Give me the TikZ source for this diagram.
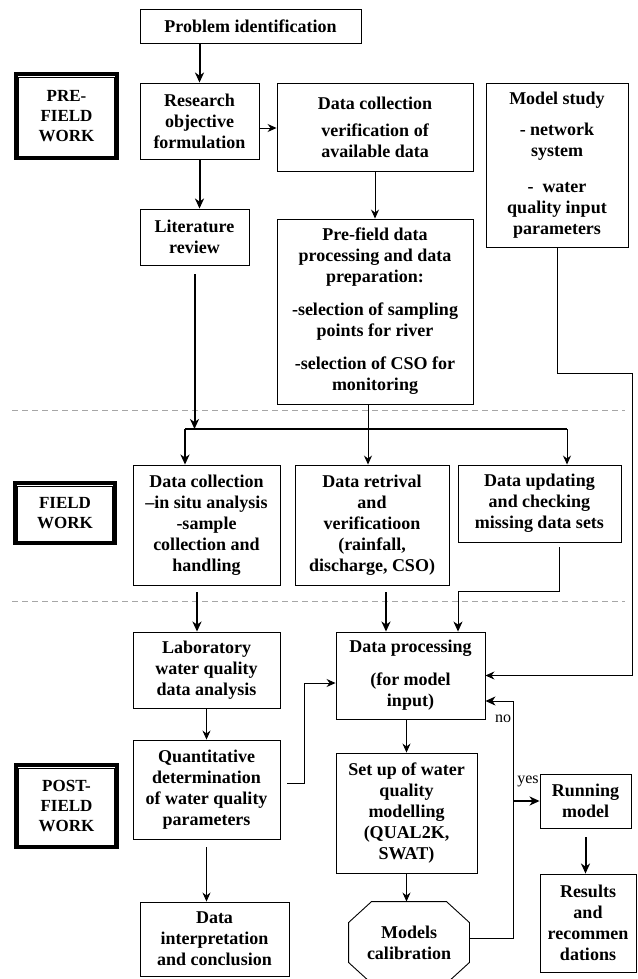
\documentclass[tikz,border=0pt]{standalone}
\usepackage{fontspec}
\setmainfont{Liberation Serif}
\usetikzlibrary{arrows.meta,calc}
\begin{document}
\begin{tikzpicture}[x=1pt,y=-1pt,
  box/.style={draw,line width=0.9pt,inner sep=0pt,align=center,
    font=\fontsize{18}{21}\selectfont\bfseries},
  phase/.style={draw,line width=4pt,inner sep=0pt,align=center,
    font=\fontsize{17}{20}\selectfont\bfseries},
  plain/.style={inner sep=0pt,font=\fontsize{16}{18}\selectfont},
  thk/.style={line width=2pt,-{Stealth[length=10pt,width=9pt,inset=3pt]}},
  thn/.style={line width=0.9pt,-{Stealth[length=9pt,width=8pt,inset=3pt]}},
  med/.style={line width=1pt,-{Stealth[length=10pt,width=9pt,inset=3pt]}},
  sep/.style={draw=black!35,line width=0.8pt,dash pattern=on 6pt off 4pt}]
\useasboundingbox (0,0) rectangle (637,979);
\clip (0,0) rectangle (637,979);

% separators
\draw[sep] (12,410) -- (625,410);
\draw[sep] (12,601) -- (625,601);

% phase labels
\node[phase,minimum width=101pt,minimum height=84pt] (pre) at (66.5,116) {PRE-\\FIELD\\WORK};
\draw[line width=0.8pt] ([shift={(4.5pt,-5pt)}]pre.north west) rectangle ([shift={(-5pt,4pt)}]pre.south east);
\node[phase,minimum width=100pt,minimum height=60pt] (field) at (65,513) {FIELD\\WORK};
\draw[line width=0.8pt] ([shift={(4.5pt,-5pt)}]field.north west) rectangle ([shift={(-5pt,4pt)}]field.south east);
\node[phase,minimum width=101pt,minimum height=82pt] (post) at (66.5,806) {POST-\\FIELD\\WORK};
\draw[line width=0.8pt] ([shift={(4.5pt,-5pt)}]post.north west) rectangle ([shift={(-5pt,4pt)}]post.south east);

% boxes
\node[box,minimum width=221pt,minimum height=34pt] (prob) at (250.5,26) {Problem identification};
\node[box,minimum width=119pt,minimum height=76pt] (research) at (199.5,121) {Research\\objective\\formulation};
\node[box,minimum width=196pt,minimum height=88pt] (datacol) at (375,127) {Data collection\\[6pt]verification of\\available data};
\node[box,minimum width=142pt,minimum height=164pt] (model) at (557,165) {Model study\\[10pt]- network\\system\\[15pt]-\ \ water\\quality input\\parameters};
\node[box,minimum width=109pt,minimum height=56pt] (lit) at (194.5,237) {Literature\\review};
\node[box,minimum width=196pt,minimum height=185pt] (prefield) at (375,311.5) {Pre-field data\\processing and data\\preparation:\\[12pt]-selection of sampling\\points for river\\[12pt]-selection of CSO for\\monitoring};
\node[box,minimum width=147pt,minimum height=120pt] (insitu) at (206.5,525) {Data collection\\--in situ analysis\\-sample\\collection and\\handling};
\node[box,minimum width=154pt,minimum height=120pt] (retrieval) at (372,525) {Data retrival\\and\\verificatioon\\(rainfall,\\discharge, CSO)};
\node[box,minimum width=163pt,minimum height=77pt] (update) at (539.5,503.5) {Data updating\\and checking\\missing data sets};
\node[box,minimum width=147pt,minimum height=76pt] (lab) at (206.5,670) {Laboratory\\water quality\\data analysis};
\node[box,minimum width=147pt,minimum height=99pt] (quant) at (206.5,789.5) {Quantitative\\determination\\of water quality\\parameters};
\node[box,minimum width=149pt,minimum height=74pt] (interp) at (214.5,939) {Data\\interpretation\\and conclusion};
\node[box,minimum width=149pt,minimum height=87pt] (proc) at (410.5,675.5) {Data processing\\[12pt](for model\\input)};
\node[box,minimum width=141pt,minimum height=120pt] (setup) at (406.5,813) {Set up of water\\quality\\modelling\\(QUAL2K,\\SWAT)};
\node[box,draw=none,minimum width=120pt,minimum height=81pt] (calib) at (409,942.5) {Models\\calibration};
\draw[line width=0.9pt] ([xshift=23pt]calib.north west) -- ([xshift=-23pt]calib.north east)
  -- ([yshift=-21pt]calib.north east) -- ([yshift=21pt]calib.south east)
  -- ([xshift=-23pt]calib.south east) -- ([xshift=23pt]calib.south west)
  -- ([yshift=21pt]calib.south west) -- ([yshift=-21pt]calib.north west) -- cycle;
\node[box,minimum width=91pt,minimum height=54pt] (run) at (585.5,801) {Running\\model};
\node[box,minimum width=96pt,minimum height=98pt] (results) at (588,923) {Results\\and\\recommen\\dations};

% labels
\node[plain] (no) at (503,719) {no};
\node[plain] (yes) at (528,781) {yes};

% named bend points
\coordinate (bL) at (185,429);
\coordinate (bM) at (368,429);
\coordinate (bR) at (567,429);
\coordinate (mA) at (632,373);
\coordinate (uA) at (458,591);
\coordinate (kA) at (304,683);
\coordinate (nA) at (513,701);
\coordinate (yA) at (513,801);
\path ([yshift=-7pt]research.east) coordinate (rE);
\path ([xshift=19.5pt]update.south) coordinate (uS);
\path ([xshift=14pt]retrieval.south) coordinate (tS);
\path ([xshift=-9.5pt]insitu.south) coordinate (iS);
\path ([yshift=6.5pt]quant.east) coordinate (qE);
\path ([yshift=4.5pt]calib.east) coordinate (cE);

% connectors
\draw[thk] (research.north |- prob.south) -- (research.north);
\draw[thn] (rE) -- (rE -| datacol.west);
\draw[thk] (research.south) -- (research.south |- lit.north);
\draw[thn] (datacol.south) -- (prefield.north);
\draw[thk,shorten <=9pt] (lit.south) -- (lit.south |- bL);
\draw[line width=1.1pt] (bL) -- (bR);
\draw[line width=0.9pt] (bM |- prefield.south) -- (bM);
\draw[thk] (bL) -- (bL |- insitu.north);
\draw[thn] (bM) -- (bM |- retrieval.north);
\draw[thn] (bR) -- (bR |- update.north);
\draw[thn] (model.south) |- (mA) |- (proc.east);
\draw[med,shorten <=5pt] (uS) -- (uS |- uA) -- (uA) -- (uA |- proc.north);
\draw[thk,shorten <=7pt] (tS) -- (tS |- proc.north);
\draw[thk,shorten <=7pt] (iS) -- (iS |- lab.north);
\draw[thn] (lab.south) -- (quant.north);
\draw[thn,shorten <=7pt] (qE) -| (kA) -- (kA -| proc.west);
\draw[thn,shorten <=8pt] (quant.south) -- (quant.south |- interp.north);
\draw[thn] (setup.north |- proc.south) -- (setup.north);
\draw[thn] (setup.south) -- (setup.south |- calib.north);
\draw[med] (cE) -| (nA) -- (nA -| proc.east);
\draw[thk] (yA) -- (yA -| run.west);
\draw[thk,shorten <=9pt] (run.south) -- (run.south |- results.north);
\end{tikzpicture}
\end{document}
